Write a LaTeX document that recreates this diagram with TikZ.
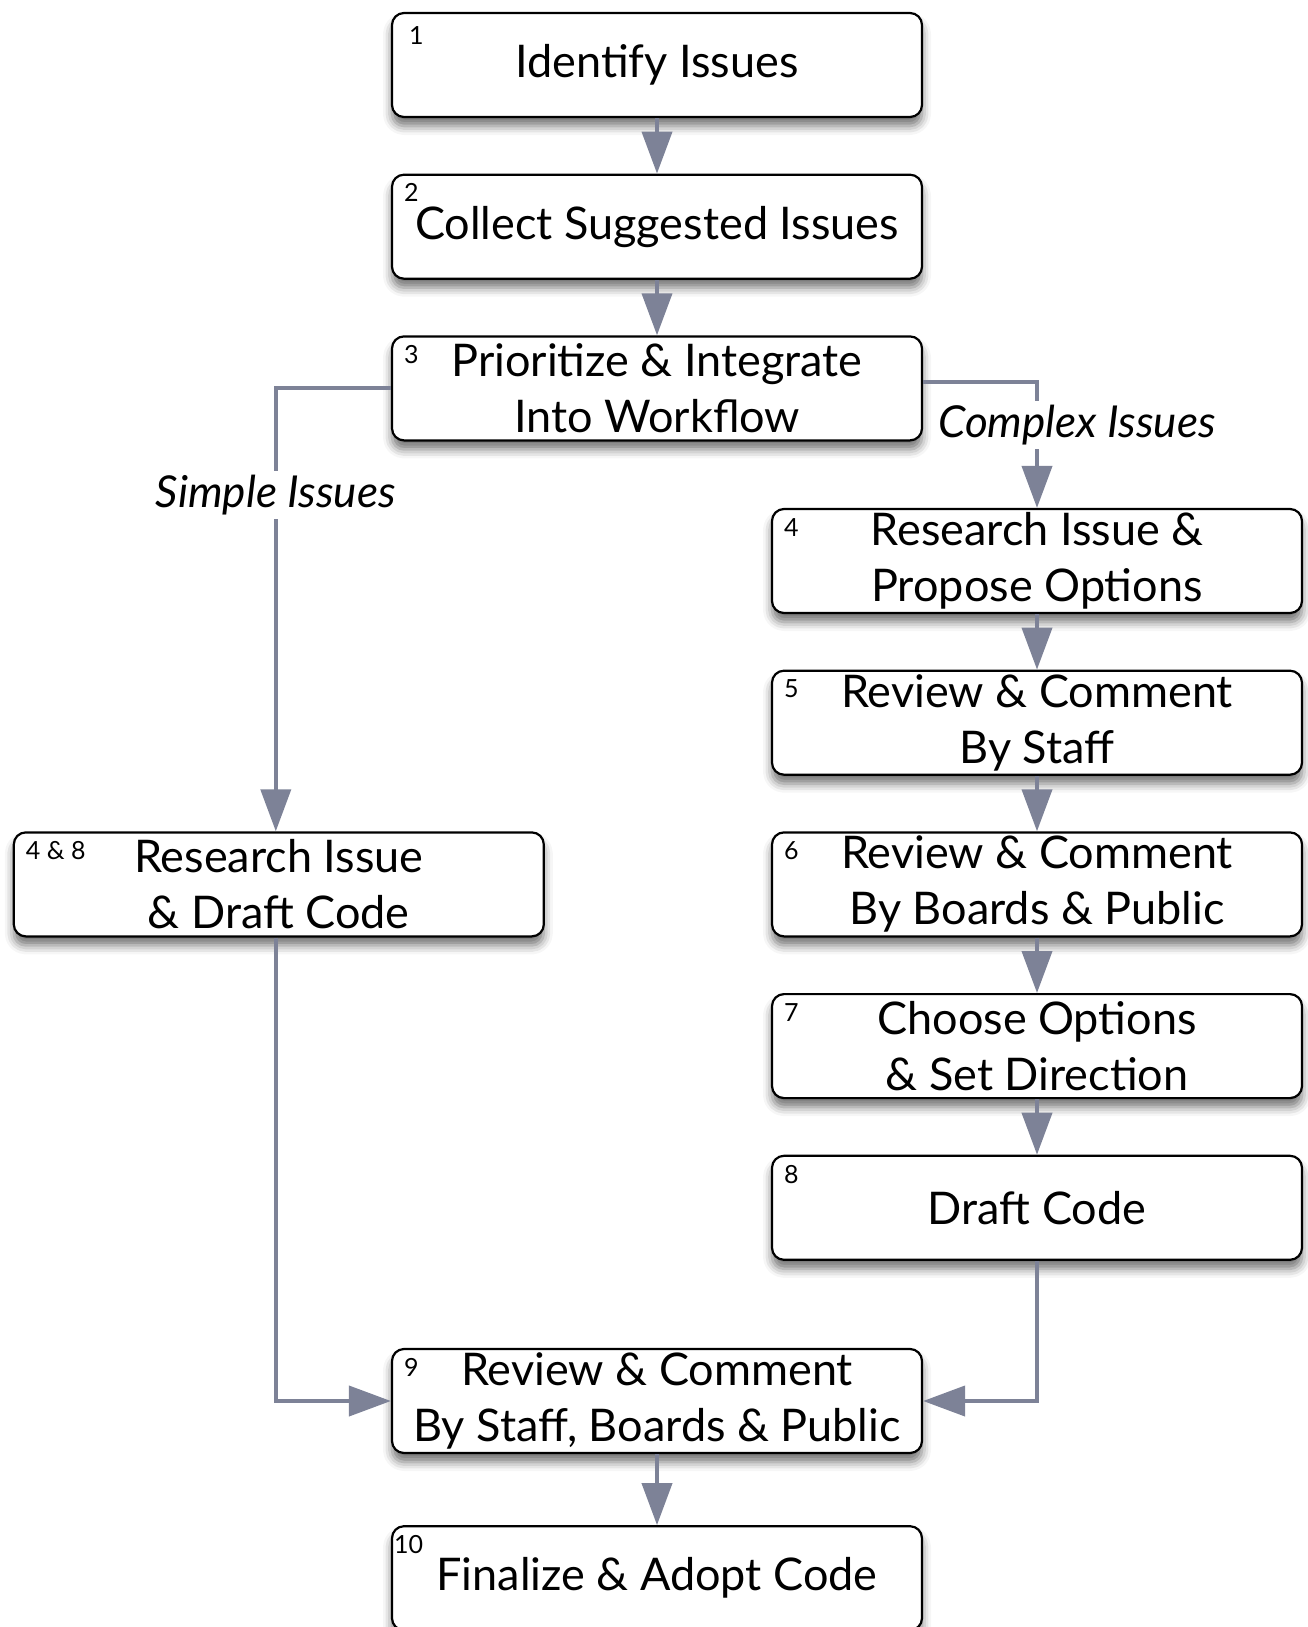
\documentclass[tikz,border=0pt]{standalone}
\usepackage{fontspec}
\setmainfont{Lato}
\usetikzlibrary{arrows.meta,positioning,shadows.blur}
\definecolor{flow}{HTML}{7D8297}

\begin{document}
\begin{tikzpicture}[
  x=1pt,y=1pt,
  node distance=55.5pt,
  box/.style={draw,line width=2.2pt,rounded corners=12pt,fill=white,minimum width=530pt,minimum height=104pt,align=center,font=\fontsize{45}{56}\selectfont,
    blur shadow={shadow xshift=0pt,shadow yshift=-9pt,shadow blur radius=9pt,shadow opacity=55}},
  num/.style={anchor=north west,inner sep=0pt,xshift=13pt,yshift=-10pt,font=\fontsize{25}{25}\selectfont},
  arrow/.style={-{Triangle[length=42pt,width=30pt]},line width=4pt,draw=flow},
  tag/.style={fill=white,inner sep=4pt,font=\fontsize{44}{50}\selectfont\itshape}
]
\useasboundingbox (0,0) rectangle (1307,-1627);
\node[box,label={[num,xshift=5pt,yshift=-4pt]north west:1}] (identify) at (657,-65) {Identify Issues};
\node[box,below=of identify,label={[num]north west:2}] (collect) {Collect Suggested Issues};
\node[box,below=of collect,label={[num]north west:3}] (prioritize) {Prioritize \& Integrate\\Into Workflow};
\node[box,label={[num]north west:4}] (research) at (1037,-561) {Research Issue \&\\Propose Options};
\node[box,below=of research,label={[num]north west:5}] (staffreview) {Review \& Comment\\By Staff};
\node[box,below=of staffreview,label={[num]north west:6}] (boardreview) {Review \& Comment\\By Boards \& Public};
\node[box,below=of boardreview,label={[num]north west:7}] (choose) {Choose Options\\\& Set Direction};
\node[box,below=of choose,label={[num]north west:8}] (draft) {Draft Code};
\node[box,left=226pt of boardreview,label={[num]north west:4 \& 8}] (quickdraft) {Research Issue\\\& Draft Code};
\node[box,label={[num]north west:9}] (finalreview) at (657,-1401) {Review \& Comment\\By Staff, Boards \& Public};
\node[box,below=71pt of finalreview,label={[num,xshift=-10pt]north west:10}] (adopt) {Finalize \& Adopt Code};
\draw[arrow] (identify) -- (collect);
\draw[arrow] (collect) -- (prioritize);
\draw[arrow] (prioritize.west) -| node[tag,pos=0.62] {Simple Issues} ([xshift=-3pt]quickdraft.north);
\draw[arrow] ([yshift=6pt]prioritize.east) -| node[tag,pos=0.67,xshift=40pt] {Complex Issues} (research.north);
\draw[arrow] (research) -- (staffreview);
\draw[arrow] (staffreview) -- (boardreview);
\draw[arrow] (boardreview) -- (choose);
\draw[arrow] (choose) -- (draft);
\draw[arrow] ([xshift=-3pt]quickdraft.south) |- (finalreview.west);
\draw[arrow] (draft.south) |- (finalreview.east);
\draw[arrow] (finalreview) -- (adopt);
\end{tikzpicture}
\end{document}
